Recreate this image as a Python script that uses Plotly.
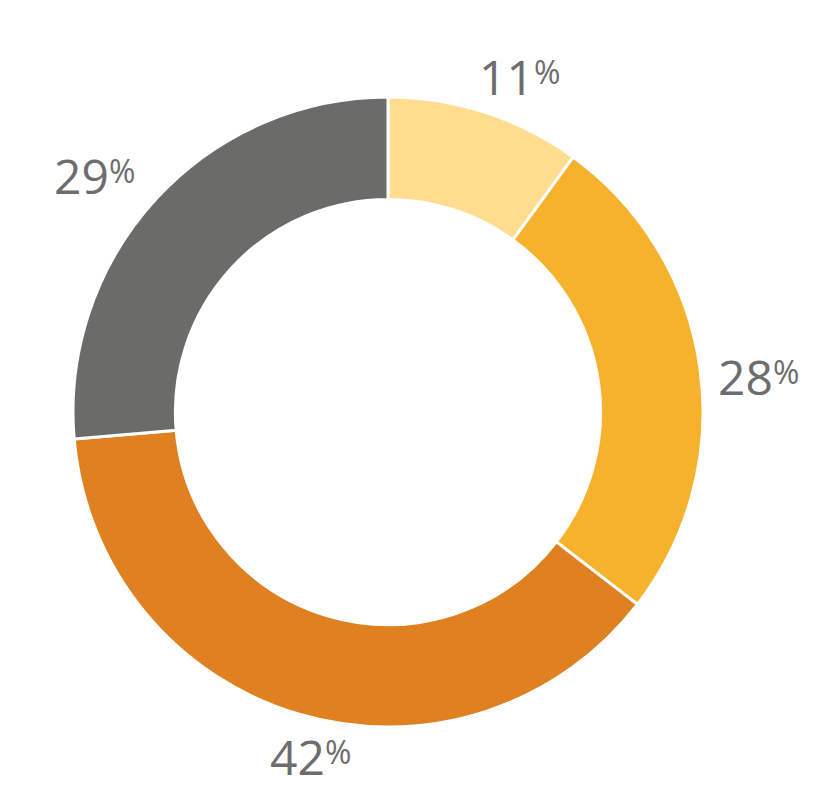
import math
import plotly.graph_objects as go

labels = ["A", "B", "C", "D"]
values = [11, 28, 42, 29]
colors = ["#FFDD8E", "#F7B22D", "#E08121", "#6B6B69"]

# label placement (layout only): angle nudge in degrees and distance from centre in px
label_nudge_deg = [3.7, 3.4, -3.8, -4.2]
label_dist_px = [357, 372, 357, 374]

W, H = 816, 800
cx, cy, R = 380, 404, 315   # in figure pixels (page adds an 8px body margin)

fig = go.Figure(go.Pie(
    labels=labels,
    values=values,
    sort=False,
    direction="clockwise",
    rotation=0,
    hole=0.675,
    marker=dict(colors=colors, line=dict(color="white", width=3)),
    textinfo="none",
    hoverinfo="label+value",
    showlegend=False,
    domain=dict(x=[(cx - R) / W, (cx + R) / W], y=[(H - cy - R) / H, (H - cy + R) / H]),
))

total = sum(values)
cum = 0
for v, nd, dist in zip(values, label_nudge_deg, label_dist_px):
    mid = (cum + v / 2) / total * 360 + nd
    cum += v
    a = math.radians(mid)
    px = cx + dist * math.sin(a)
    py = cy - dist * math.cos(a) - 4
    fig.add_annotation(
        x=px / W, y=1 - py / H, xref="paper", yref="paper",
        xanchor="center", yanchor="middle", showarrow=False,
        text=f"{v}<span style='font-size:32px;baseline-shift:11px'>%</span>",
        font=dict(family="Open Sans", size=48, color="#6D6D6D"),
    )

fig.update_layout(
    width=W, height=H,
    margin=dict(l=0, r=0, t=0, b=0),
    paper_bgcolor="white",
    plot_bgcolor="white",
)
fig.write_html("out.html")
